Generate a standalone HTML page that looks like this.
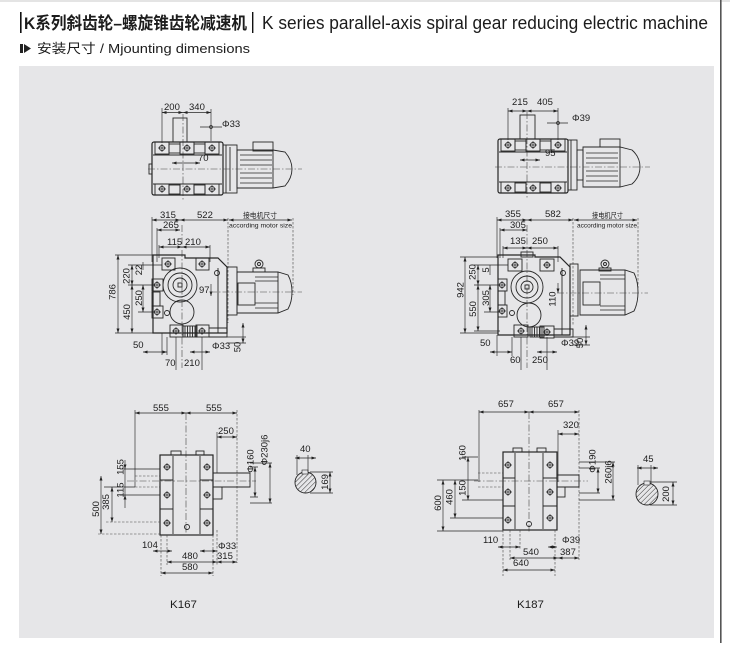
<!DOCTYPE html>
<html><head><meta charset="utf-8"><style>
html,body{margin:0;padding:0;background:#fff;width:730px;height:659px;overflow:hidden}
svg{display:block}
.l{stroke:#262626;stroke-width:.9;fill:none}
.k{stroke:#262626;stroke-width:1.2;fill:none}
.d{stroke:#262626;stroke-width:.65;fill:none}
.c{stroke:#444;stroke-width:.6;fill:none;stroke-dasharray:7 2 1.5 2}
.h{stroke:#444;stroke-width:.6;fill:none;stroke-dasharray:2.5 1.5}
.m{marker-start:url(#a);marker-end:url(#a)}
.e{marker-end:url(#a)}
text{font-family:"Liberation Sans",Arial,sans-serif;fill:#1c1c1c}
.n{font-size:9.5px}
.cj{font-family:"Liberation Sans","Noto Sans CJK SC",sans-serif}
</style></head><body>
<svg width="730" height="659" viewBox="0 0 730 659" xmlns="http://www.w3.org/2000/svg">
<defs>
<marker id="a" viewBox="0 0 6 4" refX="6" refY="2" markerWidth="5" markerHeight="3" markerUnits="userSpaceOnUse" orient="auto-start-reverse"><path d="M0,0L6,2L0,4z" fill="#222"/></marker>
<g id="b"><circle r="2.6" fill="none" stroke="#262626" stroke-width=".85"/><path d="M-4,0H4M0,-4V4" stroke="#262626" stroke-width=".65"/></g>
<pattern id="p" width="3.5" height="3.5" patternUnits="userSpaceOnUse" patternTransform="rotate(45)"><line x1="0" y1="0" x2="0" y2="3.5" stroke="#333" stroke-width="1"/></pattern>
</defs>

<!-- frame -->
<rect x="0" y="0" width="730" height="2" fill="#e4e4e4"/>
<rect x="19" y="66" width="695" height="572" fill="#e6e6e8"/>
<rect x="720" y="0" width="1.6" height="643" fill="#555"/>

<!-- title -->
<rect x="20" y="12" width="1.6" height="21" fill="#111"/>
<text x="24" y="29" font-size="17" font-weight="bold" textLength="223" lengthAdjust="spacingAndGlyphs" class="cj" fill="#111">K系列斜齿轮–螺旋锥齿轮减速机</text>
<rect x="252" y="12" width="1.4" height="21" fill="#111"/>
<text x="262" y="29" font-size="18" textLength="446" lengthAdjust="spacingAndGlyphs" fill="#111">K series parallel-axis spiral gear reducing electric machine</text>
<rect x="20" y="44" width="3" height="9" fill="#222"/>
<polygon points="24,44 31,48.5 24,53" fill="#222"/>
<text x="37" y="53" font-size="13" textLength="213" lengthAdjust="spacingAndGlyphs" class="cj">安装尺寸 / Mjounting dimensions</text>

<!-- ===== K167 top view ===== -->
<path class="d" d="M162,108V143M211,109V141"/>
<path class="d m" d="M162,112.5H183"/><path class="d m" d="M183,112.5H211"/>
<text class="n" x="164" y="110">200</text><text class="n" x="189" y="110">340</text>
<path class="d" d="M200,127H222"/><circle cx="211" cy="127" r="1.5" class="d"/>
<text class="n" x="222" y="127">Φ33</text>
<rect class="l" x="173" y="118" width="14" height="24"/>
<path class="c" d="M183,114V200"/>
<rect class="k" x="152" y="142" width="71" height="53" rx="2"/>
<path class="l" d="M153,155H222M153,184H222"/>
<rect class="l" x="155" y="142" width="14" height="12"/><rect class="l" x="180" y="142" width="14" height="12"/><rect class="l" x="205" y="142" width="14" height="12"/>
<rect class="l" x="169" y="144" width="11" height="9"/><rect class="l" x="194" y="144" width="11" height="9"/>
<rect class="l" x="155" y="184" width="14" height="11"/><rect class="l" x="180" y="184" width="14" height="11"/><rect class="l" x="205" y="184" width="14" height="11"/>
<rect class="l" x="169" y="185" width="11" height="9"/><rect class="l" x="194" y="185" width="11" height="9"/>
<use href="#b" x="162" y="148"/><use href="#b" x="187" y="148"/><use href="#b" x="212" y="148"/>
<use href="#b" x="162" y="189"/><use href="#b" x="187" y="189"/><use href="#b" x="212" y="189"/>
<rect class="l" x="149" y="164" width="3" height="10"/>
<path class="d m" d="M172,163H200"/><text class="n" x="198" y="161">70</text>
<rect class="l" x="223" y="145" width="14" height="48"/><path class="l" d="M226,145V193M230,147V191"/>
<path class="l" d="M237,150H273L285,152Q292,160 292,169Q292,178 285,186L273,188H237Z M273,150V188"/>
<path class="d" d="M240,155H272M240,160H272M240,165H272M240,173H272M240,178H272M240,183H272"/>
<rect class="l" x="253" y="142" width="20" height="9"/>
<path class="c" d="M148,169H302"/>

<!-- ===== K167 side view ===== -->
<path class="d" d="M152,217V262"/>
<path class="h" d="M228,218V323M293,218V295"/>
<path class="d m" d="M152,220H180"/><path class="d m" d="M180,220H228"/><path class="d m" d="M229,220H292"/>
<text class="n" x="160" y="218">315</text><text class="n" x="197" y="218">522</text>
<text x="243" y="218" font-size="7.5" textLength="34" lengthAdjust="spacingAndGlyphs" class="cj">接电机尺寸</text>
<text x="229" y="227.5" font-size="6.5" textLength="63" lengthAdjust="spacingAndGlyphs">according motor size</text>
<path class="d" d="M157,228V262"/><path class="d m" d="M157,230H180"/>
<text class="n" x="163" y="228">265</text>
<path class="d" d="M159,245V258M210,245V262"/>
<path class="d m" d="M159,247H182"/><path class="d m" d="M182,247H210"/>
<text class="n" x="167" y="245">115</text><text class="n" x="185" y="245">210</text>
<path class="c" d="M182,225V368"/>
<path class="k" d="M153,262V255H185V258H218L227,267V333H153Z"/>
<path class="l" d="M218,268V333"/>
<rect class="l" x="162" y="258" width="13" height="12"/><rect class="l" x="196" y="258" width="13" height="12"/>
<rect class="l" x="152" y="279" width="11" height="12"/><rect class="l" x="152" y="306" width="11" height="12"/>
<rect class="l" x="152" y="292" width="8" height="14"/>
<rect class="l" x="170" y="325" width="13" height="12"/><rect class="l" x="196" y="325" width="13" height="12"/>
<use href="#b" x="168" y="264"/><use href="#b" x="202" y="264"/><use href="#b" x="157" y="285"/>
<use href="#b" x="157" y="312"/><use href="#b" x="176" y="331"/><use href="#b" x="202" y="331"/>
<circle class="l" cx="180" cy="285" r="17"/><circle class="l" cx="180" cy="285" r="12"/><circle class="l" cx="180" cy="285" r="7"/>
<rect class="l" x="178" y="283" width="4" height="4"/>
<circle class="l" cx="182" cy="312" r="12"/>
<circle class="l" cx="217" cy="273" r="2.5"/><circle class="l" cx="167" cy="313" r="2.5"/>
<path class="d e" d="M211,284V296"/><text class="n" x="199" y="293">97</text>
<rect class="l" x="227" y="267" width="10" height="48"/>
<path class="l" d="M237,272H278L288,275Q292,282 292,292Q292,302 288,309L278,313H237Z M278,272V313"/>
<rect class="l" x="238" y="283" width="17" height="22"/>
<path class="d" d="M255,277H278M255,281H278M255,303H278M255,308H278"/>
<circle class="l" cx="259" cy="264" r="4"/><circle class="l" cx="259" cy="264" r="1.5"/><rect class="l" x="253" y="268" width="12" height="4"/>
<path class="c" d="M210,292H302"/>
<path class="d" d="M115,255H153M115,333H153M128,265H162M128,285H155M138,312H155"/>
<path class="d m" d="M118,255V333"/>
<text class="n" transform="translate(115.5,292) rotate(-90)" text-anchor="middle">786</text>
<path class="d m" d="M132,265V285"/>
<text class="n" transform="translate(129.5,276) rotate(-90)" text-anchor="middle">220</text>
<path class="d" d="M143,262V270"/>
<text class="n" transform="translate(142,270) rotate(-90)" text-anchor="middle">22</text>
<path class="d m" d="M143,285V312"/>
<text class="n" transform="translate(142,298) rotate(-90)" text-anchor="middle">250</text>
<path class="d m" d="M132,285V333"/>
<text class="n" transform="translate(130,312) rotate(-90)" text-anchor="middle">450</text>
<rect class="l" x="183" y="326" width="14" height="11"/>
<path class="l" d="M185,326V337M187.5,326V337M190,326V337M192.5,326V337M195,326V337"/>
<path class="l" d="M209,328H227V337H209"/>
<path class="d" d="M162,333V355M167,337V355M176,337V370M202,337V370M227,337H246M227,343H246"/>
<path class="d m" d="M143,352H167"/><text class="n" x="133" y="348">50</text>
<path class="d m" d="M190,352H210"/><text class="n" x="212" y="349">Φ33</text>
<path class="d m" d="M243,323V343"/>
<text class="n" transform="translate(240.5,347) rotate(-90)" text-anchor="middle">50</text>
<text class="n" x="165" y="366">70</text><text class="n" x="184" y="366">210</text>

<!-- ===== K187 top view ===== -->
<path class="d" d="M508,108V140M558,108V140"/>
<path class="d m" d="M508,111H527"/><path class="d m" d="M527,111H558"/>
<text class="n" x="512" y="105">215</text><text class="n" x="537" y="105">405</text>
<path class="d" d="M547,123H568"/><circle cx="558" cy="123" r="1.5" class="d"/>
<text class="n" x="572" y="121">Φ39</text>
<rect class="l" x="520" y="115" width="15" height="24"/>
<path class="c" d="M527,112V198"/>
<rect class="k" x="498" y="139" width="70" height="54" rx="2"/>
<path class="l" d="M499,152H567M499,182H567"/>
<rect class="l" x="501" y="139" width="14" height="12"/><rect class="l" x="526" y="139" width="14" height="12"/><rect class="l" x="551" y="139" width="14" height="12"/>
<rect class="l" x="515" y="141" width="11" height="9"/><rect class="l" x="540" y="141" width="11" height="9"/>
<rect class="l" x="501" y="182" width="14" height="11"/><rect class="l" x="526" y="182" width="14" height="11"/><rect class="l" x="551" y="182" width="14" height="11"/>
<rect class="l" x="515" y="183" width="11" height="9"/><rect class="l" x="540" y="183" width="11" height="9"/>
<use href="#b" x="508" y="145"/><use href="#b" x="533" y="145"/><use href="#b" x="558" y="145"/>
<use href="#b" x="508" y="188"/><use href="#b" x="533" y="188"/><use href="#b" x="558" y="188"/>
<path class="d m" d="M520,160H540"/><text class="n" x="545" y="156">95</text>
<rect class="l" x="568" y="140" width="9" height="50"/><path class="l" d="M571,140V190"/>
<rect class="l" x="577" y="150" width="6" height="30"/>
<path class="l" d="M583,147H620L632,150Q640,157 640,167Q640,177 632,184L620,187H583Z M620,147V187"/>
<path class="d" d="M586,153H618M586,158H618M586,163H618M586,171H618M586,176H618M586,181H618"/>
<rect class="l" x="600" y="139" width="20" height="8"/>
<path class="c" d="M495,167H650"/>

<!-- ===== K187 side view ===== -->
<path class="d" d="M497,217V258"/>
<path class="h" d="M573,218V325M638,218V288"/>
<path class="d m" d="M497,220H527"/><path class="d m" d="M527,220H573"/><path class="d m" d="M574,220H637"/>
<text class="n" x="505" y="217">355</text><text class="n" x="545" y="217">582</text>
<text x="592" y="218" font-size="7.5" textLength="31" lengthAdjust="spacingAndGlyphs" class="cj">接电机尺寸</text>
<text x="577" y="227.5" font-size="6.5" textLength="60" lengthAdjust="spacingAndGlyphs">according motor size</text>
<path class="d" d="M500,228V258"/><path class="d m" d="M500,230H527"/>
<text class="n" x="510" y="228">305</text>
<path class="d" d="M503,246V258M558,246V262"/>
<path class="d m" d="M503,248H527"/><path class="d m" d="M527,248H558"/>
<text class="n" x="510" y="244">135</text><text class="n" x="532" y="244">250</text>
<path class="c" d="M527,225V368"/>
<path class="k" d="M498,262V255H535V257H560L570,267V335H498Z"/>
<path class="l" d="M562,268V335"/>
<rect class="l" x="521" y="252" width="12" height="5"/>
<rect class="l" x="508" y="259" width="14" height="12"/><rect class="l" x="540" y="259" width="14" height="12"/>
<rect class="l" x="498" y="279" width="9" height="12"/><rect class="l" x="498" y="305" width="9" height="12"/>
<rect class="l" x="498" y="291" width="7" height="14"/>
<rect class="l" x="514" y="325" width="14" height="12"/><rect class="l" x="540" y="326" width="14" height="12"/>
<use href="#b" x="515" y="265"/><use href="#b" x="547" y="265"/><use href="#b" x="502" y="285"/>
<use href="#b" x="502" y="311"/><use href="#b" x="521" y="331"/><use href="#b" x="547" y="332"/>
<circle class="l" cx="527" cy="287" r="16"/><circle class="l" cx="527" cy="287" r="11"/><circle class="l" cx="527" cy="287" r="6"/>
<rect class="l" x="525" y="285" width="4" height="4"/>
<circle class="l" cx="529" cy="315" r="12"/>
<circle class="l" cx="563" cy="273" r="2.5"/><circle class="l" cx="512" cy="313" r="2.5"/>
<rect class="l" x="570" y="264" width="8" height="52"/>
<path class="l" d="M580,270H625L634,273Q638,281 638,292Q638,303 634,311L625,315H580Z M625,270V315"/>
<rect class="l" x="583" y="282" width="17" height="23"/>
<path class="d" d="M600,275H625M600,279H625M600,306H625M600,310H625"/>
<circle class="l" cx="605" cy="264" r="4"/><circle class="l" cx="605" cy="264" r="1.5"/><rect class="l" x="599" y="268" width="12" height="3"/>
<path class="c" d="M557,293H648"/>
<path class="d" d="M460,257H498M460,333H498M474,265H508M474,285H500M484,312H500M474,331H500"/>
<path class="d m" d="M465,257V333"/>
<text class="n" transform="translate(463.5,290) rotate(-90)" text-anchor="middle">942</text>
<path class="d m" d="M478,265V285"/>
<text class="n" transform="translate(475.5,272) rotate(-90)" text-anchor="middle">250</text>
<path class="d" d="M490,265V275"/>
<text class="n" transform="translate(489,270) rotate(-90)" text-anchor="middle">5</text>
<path class="d m" d="M490,285V312"/>
<text class="n" transform="translate(489,298) rotate(-90)" text-anchor="middle">305</text>
<path class="d m" d="M478,285V331"/>
<text class="n" transform="translate(476,309) rotate(-90)" text-anchor="middle">550</text>
<path class="d e" d="M558,283V293"/>
<text class="n" transform="translate(555.5,299) rotate(-90)" text-anchor="middle">110</text>
<rect class="l" x="530" y="327" width="14" height="10"/>
<path class="l" d="M532,327V337M534.5,327V337M537,327V337M539.5,327V337M542,327V337"/>
<path class="l" d="M554,329H573V337H554"/>
<path class="d" d="M497,335V356M512,337V356M521,337V370M547,337V370M573,337H590M573,345H590"/>
<path class="d m" d="M490,352H512"/><text class="n" x="480" y="346">50</text>
<path class="d m" d="M537,352H557"/><text class="n" x="561" y="346">Φ39</text>
<path class="d m" d="M586,325V345"/>
<text class="n" transform="translate(583,343) rotate(-90)" text-anchor="middle">50</text>
<text class="n" x="510" y="363">60</text><text class="n" x="532" y="363">250</text>

<!-- ===== K167 front view ===== -->
<path class="d" d="M135,410V487"/><path class="h" d="M237,410V563"/>
<path class="d m" d="M135,413H186"/><path class="d m" d="M186,413H237"/>
<text class="n" x="153" y="411">555</text><text class="n" x="206" y="411">555</text>
<path class="c" d="M186,413V535"/>
<path class="d" d="M217,432V473"/><path class="d m" d="M217,437H237"/>
<text class="n" x="218" y="434">250</text>
<rect class="k" x="160" y="455" width="53" height="80"/>
<path class="l" d="M173,456V534M200,456V534M160,480H173M160,509H173M200,480H213M200,509H213"/>
<rect class="l" x="171" y="451" width="10" height="4"/><rect class="l" x="196" y="451" width="8" height="4"/>
<use href="#b" x="167" y="467"/><use href="#b" x="207" y="467"/><use href="#b" x="167" y="495"/>
<use href="#b" x="207" y="495"/><use href="#b" x="167" y="523"/><use href="#b" x="207" y="523"/>
<circle class="l" cx="187" cy="527" r="2.5"/>
<path class="h" d="M135,476H160M135,487H160"/>
<path class="l" d="M213,473H250V487H213"/><rect class="l" x="213" y="487" width="9" height="12"/>
<path class="c" d="M127,481H256"/>
<path class="d" d="M250,467H258M250,497H258M250,463H272M250,503H272"/>
<path class="d m" d="M255,467V497"/>
<text class="n" transform="translate(253.5,461) rotate(-90)" text-anchor="middle">Φ160</text>
<path class="d m" d="M270,463V503"/>
<text class="n" transform="translate(267.5,450) rotate(-90)" text-anchor="middle">Φ230j6</text>
<circle cx="305.5" cy="482.5" r="10.5" fill="url(#p)" stroke="#262626" stroke-width=".9"/>
<rect x="302" y="470" width="6" height="4" fill="#e6e6e8" stroke="#262626" stroke-width=".6"/>
<path class="d" d="M297,455V475M308,455V472M310,472H333M310,493H333"/>
<path class="d m" d="M295,458H316"/><text class="n" x="300" y="452">40</text>
<path class="d m" d="M330,472V493"/>
<text class="n" transform="translate(328,482) rotate(-90)" text-anchor="middle">169</text>
<path class="d" d="M120,469H160M120,495H160M104,487H135"/>
<path class="h" d="M106,522H160M98,534H160"/>
<path class="d e" d="M125,460V469"/><path class="d" d="M125,469V495"/><path class="d e" d="M125,508V495"/>
<text class="n" transform="translate(123.5,467) rotate(-90)" text-anchor="middle">155</text>
<text class="n" transform="translate(123.5,490) rotate(-90)" text-anchor="middle">115</text>
<path class="d m" d="M112,487V522"/>
<text class="n" transform="translate(109,502) rotate(-90)" text-anchor="middle">385</text>
<path class="d m" d="M101,476V534"/>
<text class="n" transform="translate(99,509) rotate(-90)" text-anchor="middle">500</text>
<path class="h" d="M161,535V576M213,535V576M167,535V565M217,530V565"/>
<path class="d m" d="M153,551H172"/><text class="n" x="142" y="548">104</text>
<path class="d m" d="M200,551H217"/><text class="n" x="218" y="549">Φ33</text>
<path class="d m" d="M167,562H217"/><text class="n" x="182" y="559">480</text>
<path class="d m" d="M217,562H237"/><text class="n" x="217" y="559">315</text>
<path class="d m" d="M161,573H213"/><text class="n" x="182" y="570">580</text>

<!-- ===== K187 front view ===== -->
<path class="d" d="M479,410V482"/><path class="h" d="M579,410V560"/>
<path class="d m" d="M479,412H529"/><path class="d m" d="M529,412H579"/>
<text class="n" x="498" y="407">657</text><text class="n" x="548" y="407">657</text>
<path class="c" d="M529,412V532"/>
<path class="d" d="M558,430V482"/><path class="d m" d="M558,434H579"/>
<text class="n" x="563" y="428">320</text>
<rect class="k" x="503" y="452" width="54" height="78"/>
<path class="l" d="M515,453V529M543,453V529M503,478H515M503,506H515M543,478H557M543,506H557"/>
<rect class="l" x="513" y="448" width="9" height="4"/><rect class="l" x="537" y="448" width="9" height="4"/>
<use href="#b" x="508" y="465"/><use href="#b" x="550" y="465"/><use href="#b" x="508" y="492"/>
<use href="#b" x="550" y="492"/><use href="#b" x="508" y="520"/><use href="#b" x="550" y="518"/>
<circle class="l" cx="529" cy="524" r="2.5"/>
<path class="h" d="M478,473H503M478,487H503"/>
<path class="l" d="M557,475H579V487H557"/><rect class="l" x="557" y="487" width="8" height="10"/>
<path class="c" d="M474,481H588"/>
<path class="d" d="M579,468H600M579,493H600M579,462H615M579,500H615"/>
<path class="d m" d="M598,468V493"/>
<text class="n" transform="translate(595.5,461) rotate(-90)" text-anchor="middle">Φ190</text>
<path class="d m" d="M613,462V500"/>
<text class="n" transform="translate(611.5,472) rotate(-90)" text-anchor="middle">260j6</text>
<circle cx="647" cy="494" r="11" fill="url(#p)" stroke="#262626" stroke-width=".9"/>
<rect x="644" y="481" width="6" height="4" fill="#e6e6e8" stroke="#262626" stroke-width=".6"/>
<path class="d" d="M638,465V485M651,465V484M650,482H677M650,505H677"/>
<path class="d m" d="M637,468H658"/><text class="n" x="643" y="462">45</text>
<path class="d m" d="M673,482V505"/>
<text class="n" transform="translate(669,494) rotate(-90)" text-anchor="middle">200</text>
<path class="d" d="M437,480H478M462,457H478M462,500H503M450,518H503M437,531H503"/>
<path class="d m" d="M468,457V500"/>
<text class="n" transform="translate(465.5,453) rotate(-90)" text-anchor="middle">160</text>
<text class="n" transform="translate(465.5,488) rotate(-90)" text-anchor="middle">150</text>
<path class="d m" d="M455,480V518"/>
<text class="n" transform="translate(452.5,497) rotate(-90)" text-anchor="middle">460</text>
<path class="d m" d="M443,480V531"/>
<text class="n" transform="translate(441,503) rotate(-90)" text-anchor="middle">600</text>
<path class="h" d="M503,530V576M555,530V576M510,530V560M520,530V550"/>
<path class="d m" d="M498,547H520"/><text class="n" x="483" y="543">110</text>
<path class="d m" d="M548,547H557"/><text class="n" x="562" y="543">Φ39</text>
<path class="d m" d="M510,558H558"/><text class="n" x="523" y="555">540</text>
<path class="d m" d="M558,558H579"/><text class="n" x="560" y="555">387</text>
<path class="d m" d="M503,570H555"/><text class="n" x="513" y="566">640</text>

<!-- model labels -->
<text x="170" y="608" font-size="11" textLength="27" lengthAdjust="spacingAndGlyphs">K167</text>
<text x="517" y="608" font-size="11" textLength="27" lengthAdjust="spacingAndGlyphs">K187</text>
</svg>
</body></html>
